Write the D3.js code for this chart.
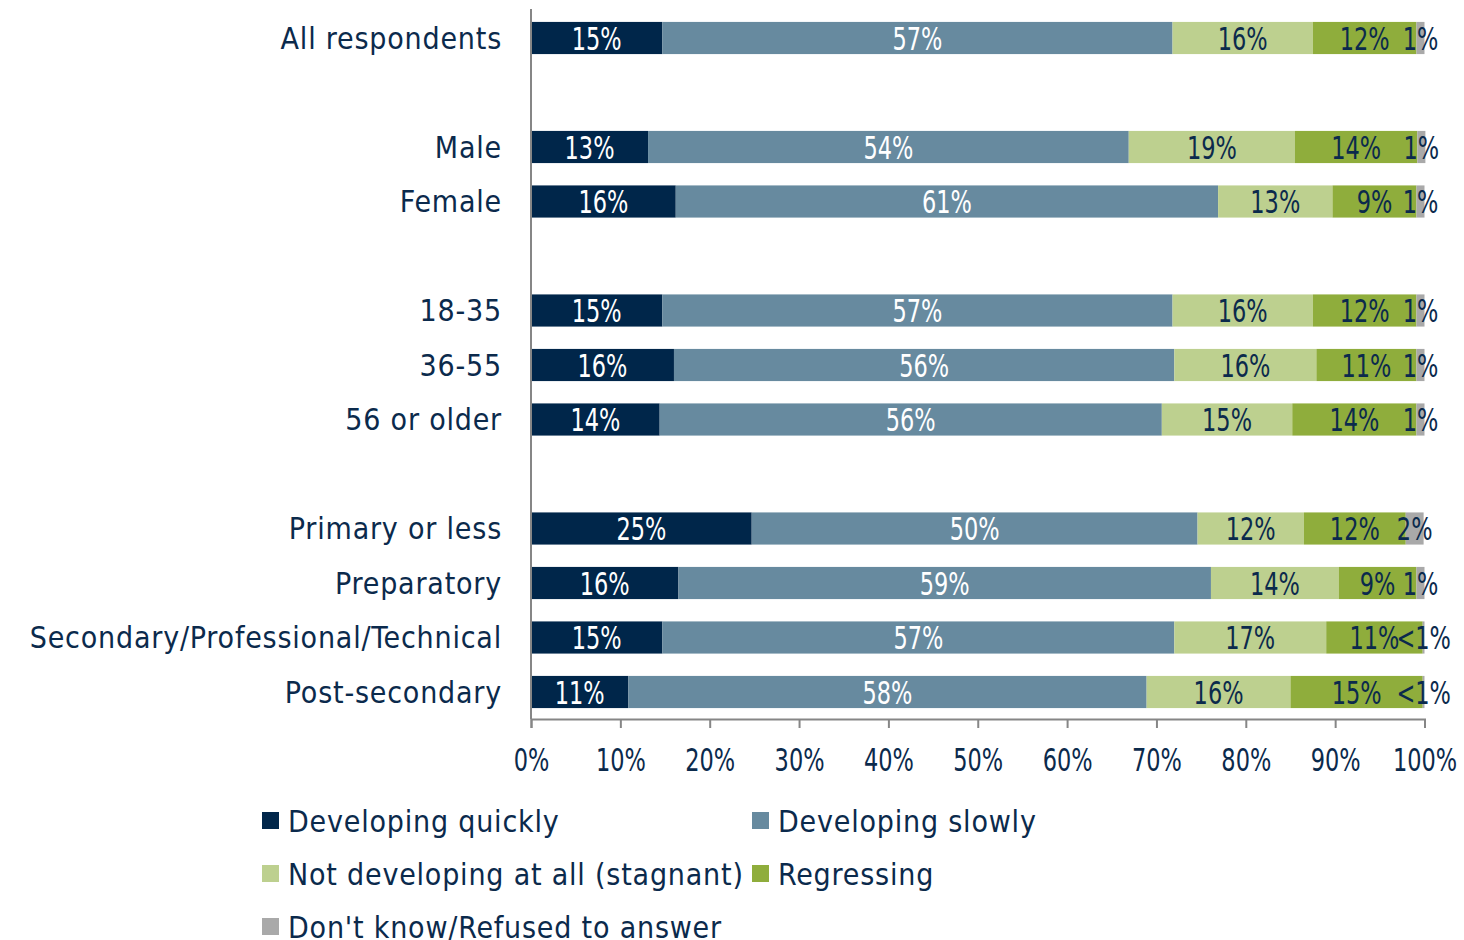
<!DOCTYPE html>
<html>
<head>
<meta charset="utf-8">
<script src="https://cdn.jsdelivr.net/npm/d3@7"></script>
<style>
  body { margin: 0; background: #fff; }
  svg { display: block; font-family: "DejaVu Sans Condensed", "DejaVu Sans", sans-serif; }
</style>
</head>
<body>
<div id="chart"></div>
<script>
// rows, in display order, split in groups (a blank row sits between groups)
var groups = [
    ["All respondents"],
    ["Male", "Female"],
    ["18-35", "36-55", "56 or older"],
    ["Primary or less", "Preparatory", "Secondary/Professional/Technical", "Post-secondary"]
];

var seriesNames = ["Developing quickly", "Developing slowly", "Not developing at all (stagnant)",
                   "Regressing", "Don't know/Refused to answer"];

// bar lengths (%)
var quickly    = [14.7, 13.1, 16.2, 14.7, 16.0, 14.4, 24.7, 16.5, 14.7, 10.9];
var slowly     = [57.1, 53.8, 60.7, 57.1, 56.0, 56.2, 49.9, 59.6, 57.3, 58.0];
var stagnant   = [15.7, 18.6, 12.8, 15.7, 15.9, 14.6, 11.9, 14.3, 17.0, 16.1];
var regressing = [11.6, 13.7,  9.4, 11.6, 11.2, 13.9, 11.4,  8.7, 10.8, 14.8];
var dontKnow   = [ 0.9,  0.9,  0.9,  0.9,  0.9,  0.9,  2.0,  0.9,  0.2,  0.2];

// printed labels
var quicklyText    = ["15%", "13%", "16%", "15%", "16%", "14%", "25%", "16%", "15%", "11%"];
var slowlyText     = ["57%", "54%", "61%", "57%", "56%", "56%", "50%", "59%", "57%", "58%"];
var stagnantText   = ["16%", "19%", "13%", "16%", "16%", "15%", "12%", "14%", "17%", "16%"];
var regressingText = ["12%", "14%", "9%", "12%", "11%", "14%", "12%", "9%", "11%", "15%"];
var dontKnowText   = ["1%", "1%", "1%", "1%", "1%", "1%", "2%", "1%", "<1%", "<1%"];

var xTicks = [0, 10, 20, 30, 40, 50, 60, 70, 80, 90, 100];

var colors = ["#00264a", "#678a9f", "#bdd08f", "#8fad3c", "#a9a9a9"];
var labelColors = ["#ffffff", "#ffffff", "#0b2a4c", "#0b2a4c", "#0b2a4c"];
var textColor = "#0b2a4c";

var width = 1464, height = 940;

var values = [quickly, slowly, stagnant, regressing, dontKnow];
var texts = [quicklyText, slowlyText, stagnantText, regressingText, dontKnowText];
var categories = [].concat.apply([], groups);

// slot list with spacers between groups
var slots = [];
groups.forEach(function(g, i) {
    if (i > 0) slots.push("gap" + i);
    g.forEach(function(c) { slots.push(c); });
});

var rows = categories.map(function(c, i) {
    var r = { category: c };
    seriesNames.forEach(function(s, j) { r[s] = values[j][i]; r["t" + j] = texts[j][i]; });
    return r;
});

var x = d3.scaleLinear().domain([0, 100]).range([531, 1424.5]);
var y = d3.scaleBand().domain(slots).range([10.75, 719.25]).paddingInner(0.41).paddingOuter(0.205);

var stack = d3.stack().keys(seriesNames);
var layers = stack(rows);

var svg = d3.select("#chart").append("svg")
    .attr("width", width)
    .attr("height", height);

var layer = svg.selectAll(".layer")
    .data(layers)
    .enter()
    .append("g")
    .attr("class", "layer")
    .style("fill", function(d, i) { return colors[i]; });

layer.selectAll("rect")
    .data(function(d) { return d; })
    .enter()
    .append("rect")
    .attr("x", function(d) { return x(d[0]); })
    .attr("y", function(d) { return y(d.data.category); })
    .attr("width", function(d) { return x(d[1]) - x(d[0]); })
    .attr("height", y.bandwidth());

// value labels (narrow face, squeezed horizontally)
layers.forEach(function(l, i) {
    svg.append("g").selectAll("text")
        .data(l)
        .enter()
        .append("text")
        .attr("transform", function(d) {
            var cx = (x(d[0]) + x(d[1])) / 2,
                cy = y(d.data.category) + y.bandwidth() / 2;
            return "translate(" + cx + "," + cy + ") scale(0.78,1)";
        })
        .attr("dy", "0.36em")
        .attr("text-anchor", "middle")
        .style("font-size", "32px")
        .style("fill", labelColors[i])
        .text(function(d) { return d.data["t" + i]; });
});

// category labels
svg.append("g").selectAll("text")
    .data(categories)
    .enter()
    .append("text")
    .attr("x", 502)
    .attr("y", function(d) { return y(d) + y.bandwidth() / 2; })
    .attr("dy", "0.35em")
    .attr("text-anchor", "end")
    .style("font-size", "30px")
    .style("letter-spacing", "0.8px")
    .style("fill", textColor)
    .text(function(d) { return d; });

// vertical axis line
svg.append("line")
    .attr("x1", 531).attr("x2", 531)
    .attr("y1", 9).attr("y2", 719)
    .style("stroke", "#868686")
    .style("stroke-width", 2);

// bottom axis
var xAxis = svg.append("g")
    .attr("transform", "translate(0,719)")
    .call(d3.axisBottom(x).tickValues(xTicks).tickSize(9).tickSizeOuter(9)
        .tickFormat(function(d) { return d + "%"; }));

xAxis.select(".domain").style("stroke", "#868686").style("stroke-width", 2);
xAxis.selectAll(".tick line").style("stroke", "#868686").style("stroke-width", 2);
xAxis.selectAll(".tick text")
    .attr("y", 0).attr("dy", 0)
    .attr("transform", "translate(0,52) scale(0.78,1)")
    .style("font-family", "DejaVu Sans Condensed, DejaVu Sans, sans-serif")
    .style("font-size", "32px")
    .style("fill", textColor);

// legend
var legend = svg.append("g").selectAll("g")
    .data(seriesNames)
    .enter()
    .append("g")
    .attr("transform", function(d, i) {
        return "translate(" + (i % 2 ? 752 : 262) + "," + (821 + Math.floor(i / 2) * 53) + ")";
    });

legend.append("rect")
    .attr("x", 0).attr("y", -9)
    .attr("width", 17).attr("height", 17)
    .style("fill", function(d, i) { return colors[i]; });

legend.append("text")
    .attr("x", 26)
    .attr("dy", "0.35em")
    .style("font-size", "30px")
    .style("letter-spacing", "0.8px")
    .style("fill", textColor)
    .text(function(d) { return d; });
</script>
</body>
</html>
